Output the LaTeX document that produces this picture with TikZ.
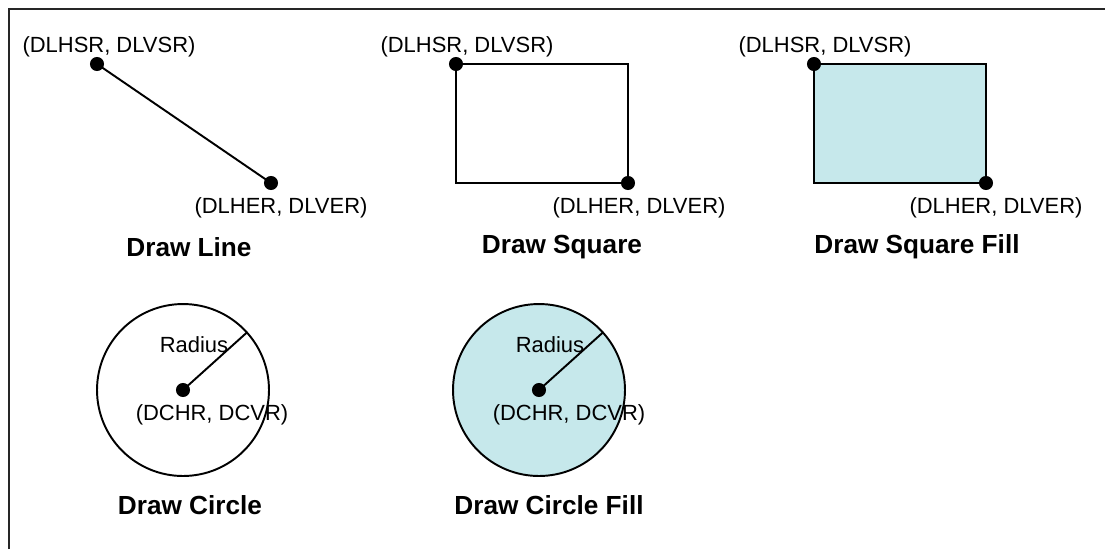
\documentclass[tikz,border=0pt]{standalone}
\usepackage{fontspec}
\setmainfont{Liberation Sans}
\definecolor{fillcyan}{RGB}{198,232,235}
\begin{document}
\begin{tikzpicture}[x=0.02cm, y=-0.02cm,
    dot/.style={circle, fill, inner sep=0pt, minimum size=8pt},
    coordlabel/.style={font=\fontsize{12.5}{14}\selectfont, inner sep=0pt},
    title/.style={font=\fontsize{14.9}{17}\selectfont\bfseries, inner sep=0pt},
    outline/.style={line width=1.1pt}]

    % Fix the canvas
    \useasboundingbox (0,0) rectangle (1105,549);

    % Draw the frame
    \draw[line width=1.2pt, black!85] (9,549) -- (9,9) -- (1105,9);

    % Draw line
    \node[dot] (LS) at (97,64) {};
    \node[dot] (LE) at (271,183) {};
    \draw[outline] (LS.center) -- (LE.center);
    \node[coordlabel] (LSlabel) at (109,47) {(DLHSR, DLVSR)};
    \node[coordlabel] (LElabel) at (281,208) {(DLHER, DLVER)};
    \node[title] (LTitle) at (189,247) {Draw Line};

    % Draw square
    \coordinate (SS) at (456,64);
    \coordinate (SE) at (628,183);
    \draw[outline] (SS) rectangle (SE);
    \node[dot] (SSdot) at (SS) {};
    \node[dot] (SEdot) at (SE) {};
    \node[coordlabel] (SSlabel) at (467,47) {(DLHSR, DLVSR)};
    \node[coordlabel] (SElabel) at (639,208) {(DLHER, DLVER)};
    \node[title] (STitle) at (562,247) {Draw Square};

    % Draw square fill
    \coordinate (FS) at (814,64);
    \coordinate (FE) at (986,183);
    \filldraw[outline, fill=fillcyan] (FS) rectangle (FE);
    \node[dot] (FSdot) at (FS) {};
    \node[dot] (FEdot) at (FE) {};
    \node[coordlabel] (FSlabel) at (825,47) {(DLHSR, DLVSR)};
    \node[coordlabel] (FElabel) at (996,208) {(DLHER, DLVER)};
    \node[title] (FTitle) at (917,247) {Draw Square Fill};

    % Draw circle
    \coordinate (C1) at (183,390);
    \draw[outline] (C1) circle[radius=1.72cm];
    \draw[outline] (C1) -- ++(42:1.72cm);
    \node[dot] (C1dot) at (C1) {};
    \node[coordlabel] (C1radius) at (194,345) {Radius};
    \node[coordlabel] (C1label) at (212,415) {(DCHR, DCVR)};
    \node[title] (C1Title) at (190,505) {Draw Circle};

    % Draw circle fill
    \coordinate (C2) at (539,390);
    \filldraw[outline, fill=fillcyan] (C2) circle[radius=1.72cm];
    \draw[outline] (C2) -- ++(42:1.72cm);
    \node[dot] (C2dot) at (C2) {};
    \node[coordlabel] (C2radius) at (550,345) {Radius};
    \node[coordlabel] (C2label) at (569,415) {(DCHR, DCVR)};
    \node[title] (C2Title) at (549,505) {Draw Circle Fill};

\end{tikzpicture}
\end{document}
